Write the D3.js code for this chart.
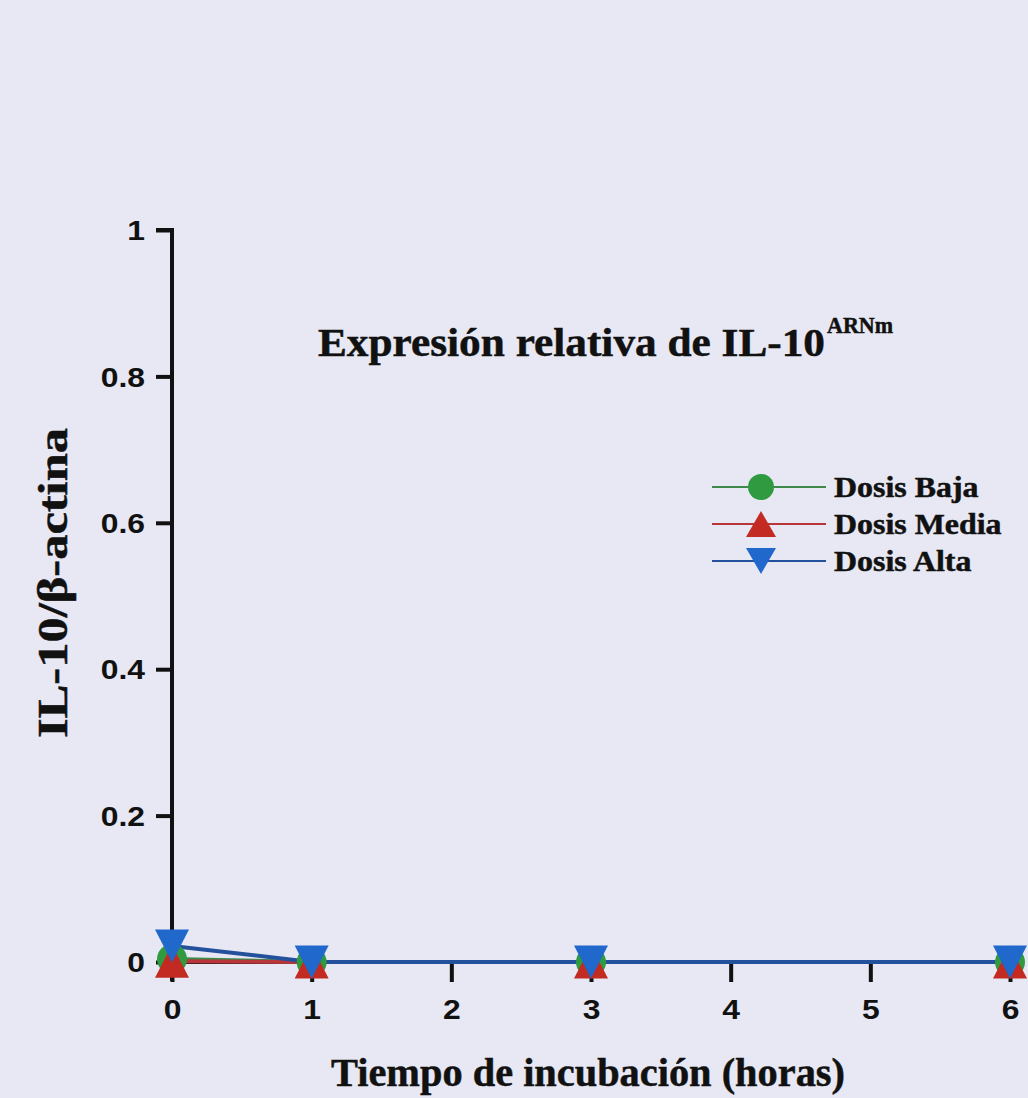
<!DOCTYPE html>
<meta charset="utf-8">
<style>
  body { margin: 0; background: #e7e8f3; }
  .tick text { font: bold 27px "Liberation Sans", Arial, sans-serif; fill: #111; }
  .lbl { font-family: "Liberation Serif", "Times New Roman", serif; font-weight: bold; fill: #111; stroke: #111; stroke-width: 0.5; }
</style>
<svg width="1028" height="1098"></svg>
<script src="https://d3js.org/d3.v7.min.js"></script>
<script>

var hours = [0, 1, 3, 6];
var baja = [0.004, 0, 0, 0];
var media = [0.001, 0, 0, 0];
var alta = [0.022, 0, 0, 0];
var xTicks = [0, 1, 2, 3, 4, 5, 6];
var yTicks = [0, 0.2, 0.4, 0.6, 0.8, 1];

var series = [
  { name: "Dosis Baja", values: baja, color: "#2f9a3f", line: "#3d8a4a", shape: "circle" },
  { name: "Dosis Media", values: media, color: "#c22a22", line: "#b8363a", shape: "up" },
  { name: "Dosis Alta", values: alta, color: "#2168cc", line: "#24519c", shape: "down" }
];

var svg = d3.select("svg");

var x = d3.scaleLinear().domain([0, 6]).range([172, 1010]);
var y = d3.scaleLinear().domain([0, 1]).range([962, 230]);

// the scanned figure is a bit wider than the font, stretch text sideways
function stretch(sel, k) {
  sel.each(function() {
    var w = this.getComputedTextLength();
    d3.select(this).attr("textLength", w * k).attr("lengthAdjust", "spacingAndGlyphs");
  });
}

function marker(sel, shape, color, w, h, r) {
  if (shape == "circle") {
    sel.append("circle").attr("r", r).attr("fill", color);
  } else if (shape == "up") {
    sel.append("path").attr("d", "M0," + (-h / 2) + "L" + (w / 2) + "," + (h / 2) + "L" + (-w / 2) + "," + (h / 2) + "Z").attr("fill", color);
  } else {
    sel.append("path").attr("d", "M0," + (h / 2) + "L" + (w / 2) + "," + (-h / 2) + "L" + (-w / 2) + "," + (-h / 2) + "Z").attr("fill", color);
  }
}

// axes
var yAxis = svg.append("g")
  .attr("transform", "translate(172,0)")
  .call(d3.axisLeft(y).tickValues(yTicks).tickSize(16).tickPadding(11)
    .tickFormat(function(d) { return d == 0 || d == 1 ? d : d3.format(".1f")(d); }));
yAxis.select(".domain").attr("d", "M-16," + y(1) + "H0V" + (y(0) + 19));
yAxis.selectAll("line, path").attr("stroke", "#111").attr("stroke-width", 4);
yAxis.selectAll(".tick text").attr("dy", "0.36em").call(stretch, 1.18);

var xAxis = svg.append("g")
  .attr("transform", "translate(0," + y(0) + ")")
  .call(d3.axisBottom(x).tickValues(xTicks).tickSize(20).tickPadding(18).tickFormat(d3.format("d")));
xAxis.selectAll("line, path").attr("stroke", "#111").attr("stroke-width", 4);
xAxis.select(".domain").attr("d", "M" + x(0) + ",0H" + x(6));
xAxis.selectAll(".tick text").attr("dy", "0.71em").call(stretch, 1.18);

// lines and markers
var line = d3.line().x(function(d, i) { return x(hours[i]); }).y(function(d) { return y(d); });

series.forEach(function(s) {
  svg.append("path")
    .attr("d", line(s.values))
    .attr("fill", "none")
    .attr("stroke", s.line)
    .attr("stroke-width", 4);
});

series.forEach(function(s) {
  s.values.forEach(function(v, i) {
    var g = svg.append("g").attr("transform", "translate(" + x(hours[i]) + "," + y(v) + ")");
    marker(g, s.shape, s.color, 34, 33, 15);
  });
});

// legend
var legend = svg.append("g").attr("transform", "translate(712,487)");
series.forEach(function(s, i) {
  var row = legend.append("g").attr("transform", "translate(0," + i * 37 + ")");
  row.append("line").attr("x1", 0).attr("x2", 114).attr("stroke", s.line).attr("stroke-width", 2);
  var m = row.append("g").attr("transform", "translate(49,0)");
  marker(m, s.shape, s.color, 30, 26, 13);
  row.append("text").attr("class", "lbl").attr("x", 122).attr("dy", "0.33em")
    .style("font-size", "29px").text(s.name).call(stretch, 1.1);
});

// titles
svg.append("text").attr("class", "lbl")
  .attr("x", 318).attr("y", 356)
  .style("font-size", "41px")
  .text("Expresión relativa de IL-10")
  .attr("textLength", 507).attr("lengthAdjust", "spacingAndGlyphs");
svg.append("text").attr("class", "lbl")
  .attr("x", 827).attr("y", 333)
  .style("font-size", "23px")
  .text("ARNm")
  .attr("textLength", 66).attr("lengthAdjust", "spacingAndGlyphs");

svg.append("text").attr("class", "lbl")
  .attr("transform", "translate(67,583) rotate(-90)")
  .attr("text-anchor", "middle")
  .style("font-size", "43px")
  .text("IL-10/β-actina")
  .attr("textLength", 310).attr("lengthAdjust", "spacingAndGlyphs");

svg.append("text").attr("class", "lbl")
  .attr("x", 588).attr("y", 1086)
  .attr("text-anchor", "middle")
  .style("font-size", "40px")
  .text("Tiempo de incubación (horas)")
  .attr("textLength", 514).attr("lengthAdjust", "spacingAndGlyphs");

</script>
